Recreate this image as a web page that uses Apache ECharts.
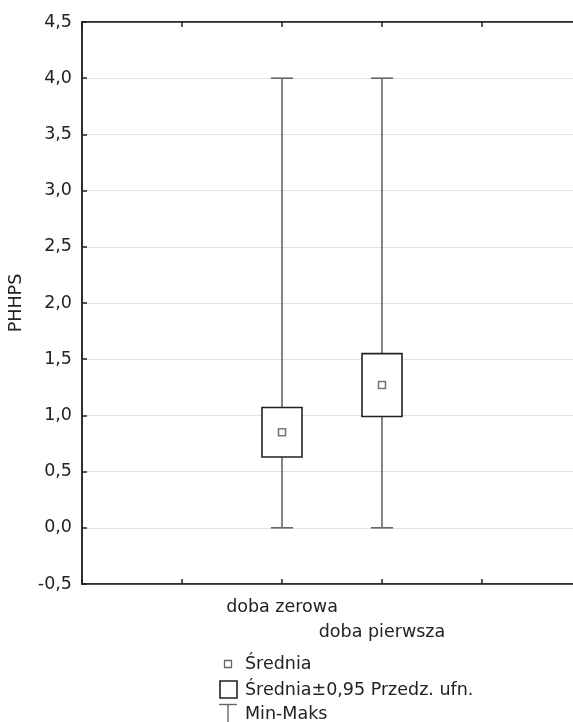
<!DOCTYPE html>
<html>
<head>
<meta charset="utf-8">
<script src="https://cdn.jsdelivr.net/npm/echarts@6/dist/echarts.min.js"></script>
<style>
html,body{margin:0;padding:0;background:#fff;}
#chart{width:573px;height:722px;}
</style>
</head>
<body>
<div id="chart"></div>
<script>
// ---- data ----
const categories = ['doba zerowa', 'doba pierwsza'];
const catPositions = [2, 3];
const mins = [0, 0];
const maxs = [4, 4];
const ciLow = [0.63, 0.99];
const ciHigh = [1.07, 1.55];
const means = [0.85, 1.27];
const yTicks = [-0.5, 0, 0.5, 1, 1.5, 2, 2.5, 3, 3.5, 4, 4.5];
const yName = 'PHHPS';
const legendLabels = ['Średnia', 'Średnia±0,95 Przedz. ufn.', 'Min-Maks'];

const FONT = '"DejaVu Sans", sans-serif';
const FS = 17.5;
const TXT = '#222';

const seriesData = categories.map((c, i) => [catPositions[i], mins[i], maxs[i], ciLow[i], ciHigh[i], means[i]]);

function renderItem(params, api) {
  const x = api.value(0);
  const pMin = api.coord([x, api.value(1)]);
  const pMax = api.coord([x, api.value(2)]);
  const pLo = api.coord([x, api.value(3)]);
  const pHi = api.coord([x, api.value(4)]);
  const pMean = api.coord([x, api.value(5)]);
  const boxW = api.size([0.4, 0])[0];
  const capW = api.size([0.22, 0])[0];
  const wStyle = {stroke: '#666', lineWidth: 1.6};
  return {
    type: 'group',
    children: [
      {type: 'line', shape: {x1: pMin[0], y1: pMin[1], x2: pMax[0], y2: pMax[1]}, style: wStyle},
      {type: 'line', shape: {x1: pMin[0] - capW / 2, y1: pMin[1], x2: pMin[0] + capW / 2, y2: pMin[1]}, style: wStyle},
      {type: 'line', shape: {x1: pMax[0] - capW / 2, y1: pMax[1], x2: pMax[0] + capW / 2, y2: pMax[1]}, style: wStyle},
      {type: 'rect', shape: {x: pHi[0] - boxW / 2, y: pHi[1], width: boxW, height: pLo[1] - pHi[1]},
        style: {fill: '#fff', stroke: '#222', lineWidth: 1.6}},
      {type: 'rect', shape: {x: pMean[0] - 3.5, y: pMean[1] - 3.5, width: 7, height: 7},
        style: {fill: '#fff', stroke: '#777', lineWidth: 1.6}}
    ]
  };
}

const chart = echarts.init(document.getElementById('chart'), null, {renderer: 'canvas'});

const lx = 228;
const option = {
  animation: false,
  backgroundColor: '#fff',
  grid: {left: 82, top: 22, width: 500, bottom: 138, outerBoundsMode: 'none', containLabel: false,
    show: true, borderColor: '#222', borderWidth: 1.5, backgroundColor: 'transparent'},
  xAxis: [
    {
      type: 'value', position: 'bottom', min: 0, max: 5, interval: 1,
      axisLine: {show: true, onZero: false, lineStyle: {color: '#222', width: 1.5}},
      axisTick: {show: true, inside: true, length: 5, lineStyle: {color: '#222', width: 1.5}},
      splitLine: {show: false},
      axisLabel: {
        show: true, margin: 11, fontFamily: FONT, fontSize: FS, color: TXT, lineHeight: 25,
        formatter: function (v) {
          const i = catPositions.indexOf(v);
          if (i < 0) return '';
          return (i % 2 === 1 ? '\n' : '') + categories[i];
        }
      }
    },
    {
      type: 'value', position: 'top', min: 0, max: 5, interval: 1,
      axisLine: {show: true, onZero: false, lineStyle: {color: '#222', width: 1.5}},
      axisTick: {show: true, inside: true, length: 5, lineStyle: {color: '#222', width: 1.5}},
      axisLabel: {show: false}, splitLine: {show: false}
    }
  ],
  yAxis: {
    type: 'value', min: yTicks[0], max: yTicks[yTicks.length - 1], interval: 0.5,
    name: yName, nameLocation: 'middle', nameGap: 57, nameRotate: 90,
    nameTextStyle: {fontFamily: FONT, fontSize: FS, color: TXT},
    axisLine: {show: true, onZero: false, lineStyle: {color: '#222', width: 1.5}},
    axisTick: {show: true, inside: true, length: 5, lineStyle: {color: '#222', width: 1.5}},
    axisLabel: {margin: 10, fontFamily: FONT, fontSize: FS, color: TXT,
      formatter: v => v.toFixed(1).replace('.', ',')},
    splitLine: {show: true, lineStyle: {color: '#e3e3e3', width: 1.2}}
  },
  series: [{
    type: 'custom', renderItem: renderItem, data: seriesData, clip: false,
    encode: {x: 0, y: [1, 2, 3, 4, 5]}
  }],
  graphic: [
    {type: 'rect', shape: {x: lx - 3.5, y: 660.5, width: 7, height: 7}, style: {fill: '#fff', stroke: '#666', lineWidth: 1.3}},
    {type: 'text', x: 245, y: 664, style: {text: legendLabels[0], font: FS + 'px ' + FONT, fill: TXT, textVerticalAlign: 'middle', verticalAlign: 'middle'}},
    {type: 'rect', shape: {x: 220, y: 681, width: 17, height: 17}, style: {fill: '#fff', stroke: '#222', lineWidth: 1.6}},
    {type: 'text', x: 245, y: 690, style: {text: legendLabels[1], font: FS + 'px ' + FONT, fill: TXT, textVerticalAlign: 'middle', verticalAlign: 'middle'}},
    {type: 'line', shape: {x1: 219, y1: 704.5, x2: 237, y2: 704.5}, style: {stroke: '#666', lineWidth: 1.4}},
    {type: 'line', shape: {x1: lx, y1: 704.5, x2: lx, y2: 722}, style: {stroke: '#666', lineWidth: 1.4}},
    {type: 'text', x: 245, y: 714, style: {text: legendLabels[2], font: FS + 'px ' + FONT, fill: TXT, textVerticalAlign: 'middle', verticalAlign: 'middle'}}
  ]
};
chart.setOption(option);
</script>
</body>
</html>
